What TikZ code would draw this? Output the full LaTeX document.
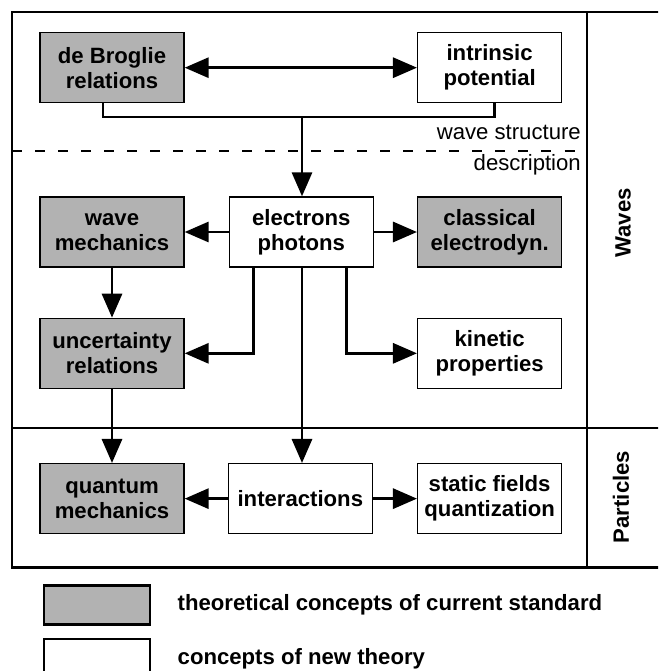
\documentclass[tikz,border=0pt]{standalone}
\usepackage{fontspec}
\setmainfont{Liberation Sans}
\usetikzlibrary{positioning, arrows.meta}

\tikzset{
  concept/.style={draw, line width=0.75pt, minimum width=2.88cm, minimum height=1.4cm,
    align=center, font=\fontsize{12.6}{14.2}\selectfont\bfseries},
  standard/.style={concept, fill=black!30},
  newconcept/.style={concept, fill=white},
  conn/.style={line width=1.7pt, -{Triangle[length=0.48cm, width=0.4cm]}},
  plainconn/.style={line width=1.7pt},
  thinsep/.style={line width=0.6pt},
  sidelabel/.style={rotate=90, font=\fontsize{12.6}{14.2}\selectfont\bfseries},
  remark/.style={anchor=east, font=\fontsize{12.6}{14.2}\selectfont},
  legendbox/.style={draw, line width=1.7pt, minimum width=2.12cm, minimum height=0.78cm}
}

\begin{document}
\begin{tikzpicture}
  \useasboundingbox (0,0) rectangle (13.16,-13.42);
  \clip (0,0) rectangle (13.16,-13.42);

  % frame and regions
  \draw [line width=1.7pt] (13.4,-0.24) -- (0.24,-0.24) -- (0.24,-11.34) -- (13.4,-11.34);
  \draw [thinsep] (11.74,-0.24) -- (11.74,-11.34);
  \draw [thinsep] (0.24,-8.56) -- (13.4,-8.56);
  \draw [thinsep, dash pattern=on 5.7pt off 7.4pt] (0.24,-3.02) -- (11.74,-3.02);

  % concepts
  \node (wave) [standard] at (2.24,-4.64) {wave\\mechanics};
  \node (electrons) [newconcept, right=0.88cm of wave] {electrons\\photons};
  \node (classical) [standard, right=0.86cm of electrons] {classical\\electrodyn.};
  \node (debroglie) [standard, above=1.86cm of wave] {de Broglie\\relations};
  \node (intrinsic) [newconcept, above=1.86cm of classical] {intrinsic\\potential};
  \node (uncertainty) [standard, below=1.0cm of wave] {uncertainty\\relations};
  \node (kinetic) [newconcept, below=1.0cm of classical] {kinetic\\properties};
  \node (quantum) [standard, below=1.48cm of uncertainty] {quantum\\mechanics};
  \node (interactions) [newconcept, right=0.86cm of quantum] {interactions};
  \node (static) [newconcept, right=0.88cm of interactions] {static fields\\quantization};

  % connections
  \coordinate (join) at (6.04,-2.34);
  \draw [line width=1.7pt, {Triangle[length=0.48cm, width=0.4cm]}-{Triangle[length=0.48cm, width=0.4cm]}] (debroglie) -- (intrinsic);
  \draw [plainconn] ([xshift=-0.18cm]debroglie.south) |- (join) -| ([xshift=0.1cm]intrinsic.south);
  \draw [conn] (join) -- (join |- electrons.north);
  \draw [conn] (electrons) -- (wave);
  \draw [conn] (electrons) -- (classical);
  \draw [conn] (wave) -- (uncertainty);
  \draw [conn] ([xshift=-0.96cm]electrons.south) |- (uncertainty);
  \draw [conn] ([xshift=0.9cm]electrons.south) |- (kinetic);
  \draw [conn] (join |- electrons.south) -- (join |- interactions.north);
  \draw [conn] (uncertainty) -- (quantum);
  \draw [conn] (interactions) -- (quantum);
  \draw [conn] (interactions) -- (static);

  % labels
  \node (wavestructure) [remark] at (11.74,-2.64) {wave structure};
  \node (description) [remark] at (11.74,-3.30) {description};
  \node (waves) [sidelabel] at (12.46,-4.46) {Waves};
  \node (particles) [sidelabel] at (12.42,-9.94) {Particles};

  % legend
  \node (legstandard) [legendbox, fill=black!30] at (1.94,-12.09) {};
  \node (legnew) [legendbox, fill=white, below=0.24cm of legstandard] {};
  \node [right=0.4cm of legstandard, font=\fontsize{12.6}{14.2}\selectfont\bfseries] {theoretical concepts of current standard};
  \node [right=0.4cm of legnew, font=\fontsize{12.6}{14.2}\selectfont\bfseries] {concepts of new theory};
\end{tikzpicture}
\end{document}
